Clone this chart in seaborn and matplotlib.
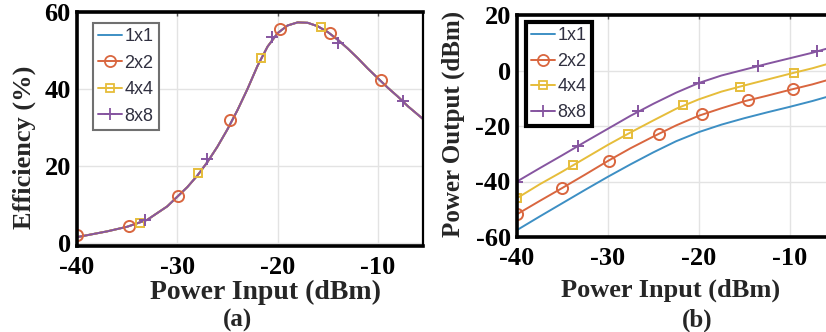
import matplotlib
matplotlib.use("Agg")
import matplotlib.pyplot as plt
import seaborn as sns
from matplotlib.lines import Line2D

# ---------------- data ----------------
SERIES = ["1x1", "2x2", "4x4", "8x8"]
COLORS = ["#3d8fc4", "#d9663f", "#e6bd3a", "#8655a0"]
MARKERS = [None, "o", "s", "+"]

# (a) efficiency (all array sizes coincide)
PIN_A = [-40, -37, -35, -33, -31, -30, -29, -28, -27, -26, -25, -24, -23, -22,
         -21, -20, -19, -18, -17, -16, -15, -14, -13, -12, -11, -10, -9, -8,
         -7, -6, -5.5]
EFF = [1.5, 3.0, 4.2, 6.0, 9.5, 12.0, 14.5, 17.5, 21.0, 25.0, 29.5, 34.5, 40.0,
       46.0, 51.0, 54.5, 56.5, 57.3, 57.2, 56.3, 54.8, 52.8, 50.5, 48.0, 45.3,
       42.8, 40.3, 38.0, 35.5, 33.3, 32.2]
MK_A_X = {"2x2": [-40, -34.8, -29.9, -24.7, -19.8, -14.8, -9.7],
          "4x4": [-33.7, -27.9, -21.7, -15.7],
          "8x8": [-33.2, -27.0, -20.6, -14.0, -7.5]}
MK_A_Y = {"2x2": [2.0, 4.3, 12.3, 32.0, 55.6, 54.6, 42.4],
          "4x4": [5.3, 18.2, 48.0, 56.0],
          "8x8": [6.0, 21.8, 53.6, 52.0, 36.8]}

# (b) power output
PIN_B = [-40, -37.5, -35, -32.5, -30, -27.5, -25, -22.5, -20, -17.5, -15, -12.5,
         -10, -7.5, -6]
POUT = {
    "1x1": [-57.5, -52.6, -47.8, -43.0, -38.3, -33.8, -29.5, -25.5, -22.2, -19.5,
            -17.2, -15.1, -13.1, -11.0, -9.6],
    "2x2": [-51.8, -47.0, -42.3, -37.5, -32.6, -28.0, -23.8, -19.8, -16.3, -13.6,
            -11.1, -9.1, -7.0, -5.0, -3.6],
    "4x4": [-46.0, -41.0, -36.4, -31.6, -26.8, -22.3, -18.0, -13.8, -10.4, -7.6,
            -5.4, -3.3, -1.2, 0.8, 2.2],
    "8x8": [-40.0, -35.2, -30.5, -25.7, -21.0, -16.3, -12.0, -8.0, -4.5, -1.8,
            0.3, 2.4, 4.4, 6.4, 7.8],
}
MK_B_X = {"2x2": [-40, -35.1, -29.9, -24.4, -19.6, -14.6, -9.6],
          "4x4": [-40, -33.8, -27.8, -21.7, -15.5, -9.5],
          "8x8": [-40, -33.3, -26.7, -20.0, -13.5, -7.0]}
MK_B_Y = {"2x2": [-51.8, -42.5, -32.6, -23.0, -15.8, -10.7, -6.5],
          "4x4": [-46.0, -34.2, -22.9, -12.5, -5.9, -0.8],
          "8x8": [-40.0, -27.3, -14.7, -4.5, 1.6, 7.0]}

X_TICKS = [-40, -30, -20, -10]
Y_TICKS_A = [0, 20, 40, 60]
Y_TICKS_B = [-60, -40, -20, 0, 20]

# ---------------- style ----------------
sns.set_theme(style="whitegrid")
plt.rcParams["font.family"] = ["Liberation Serif", "DejaVu Serif"]
plt.rcParams["axes.unicode_minus"] = False

W, H = 826, 332
fig = plt.figure(figsize=(W / 100, H / 100), dpi=100)


def px_axes(l, t, r, b):
    return fig.add_axes([l / W, 1 - b / H, (r - l) / W, (b - t) / H])


ax1 = px_axes(77, 12, 423, 246)
ax2 = px_axes(517, 15, 826, 237)

MS = {"o": 8, "s": 6, "+": 9}


def draw_markers(ax, xs, ys, color, marker):
    sns.lineplot(x=xs, y=ys, ax=ax, color=color, linestyle="", marker=marker,
                 markersize=MS[marker], markerfacecolor="none",
                 markeredgecolor=color, markeredgewidth=1.4, sort=False,
                 estimator=None)


# (a)
for s, c, m in zip(SERIES, COLORS, MARKERS):
    sns.lineplot(x=PIN_A, y=EFF, ax=ax1, color=c, linewidth=1.4, sort=False,
                 estimator=None)
for s, c, m in zip(SERIES, COLORS, MARKERS):
    if m:
        draw_markers(ax1, MK_A_X[s], MK_A_Y[s], c, m)

# (b)
for s, c, m in zip(SERIES, COLORS, MARKERS):
    sns.lineplot(x=PIN_B, y=POUT[s], ax=ax2, color=c, linewidth=1.4, sort=False,
                 estimator=None)
    if m:
        draw_markers(ax2, MK_B_X[s], MK_B_Y[s], c, m)

ax1.set_xlim(-40, -5.5)
ax1.set_ylim(-0.8, 60)
ax2.set_xlim(-40, -6)
ax2.set_ylim(-60, 20)
ax1.set_xticks(X_TICKS)
ax2.set_xticks(X_TICKS)
ax1.set_yticks(Y_TICKS_A)
ax2.set_yticks(Y_TICKS_B)
ax1.set_xticklabels([str(v) for v in X_TICKS])
ax2.set_xticklabels([str(v) for v in X_TICKS])
ax1.set_yticklabels([str(v) for v in Y_TICKS_A])
ax2.set_yticklabels([str(v) for v in Y_TICKS_B])

for ax in (ax1, ax2):
    ax.grid(True, color="#e3e3e3", linewidth=1.0)
    ax.set_facecolor("white")
    ax.tick_params(axis="both", which="major", labelsize=19, pad=4.5,
                   direction="in", length=3, width=1, color="#555555",
                   top=True, labelcolor="black")
    ax.tick_params(axis="x", pad=7)
    for lab in ax.get_xticklabels() + ax.get_yticklabels():
        lab.set_fontweight("bold")
    for side in ("left", "top", "bottom"):
        ax.spines[side].set_color("black")
        ax.spines[side].set_linewidth(2.6)
    ax.spines["right"].set_color("black")

ax1.spines["right"].set_linewidth(1.6)
ax2.spines["right"].set_visible(False)

ax1.set_xlabel("Power Input (dBm)", fontsize=20, fontweight="bold")
ax1.xaxis.set_label_coords((266 - 77) / 346, (246 - 280) / 234)
ax1.set_ylabel("Efficiency (%)", fontsize=19, fontweight="bold")
ax1.yaxis.set_label_coords((24 - 77) / 346, (246 - 147) / 234)
ax2.set_xlabel("Power Input (dBm)", fontsize=19, fontweight="bold")
ax2.xaxis.set_label_coords((671 - 517) / 309, (237 - 279) / 222)
ax2.set_ylabel("Power Output (dBm)", fontsize=18, fontweight="bold")
ax2.yaxis.set_label_coords((453 - 517) / 309, (237 - 124) / 222)
ax1.xaxis.label.set_va("top")
ax2.xaxis.label.set_va("top")
ax1.yaxis.label.set_va("center")
ax2.yaxis.label.set_va("center")

fig.text(238 / W, 1 - 320 / H, "(a)", fontsize=18, fontweight="bold",
         ha="center", va="center")
fig.text(697 / W, 1 - 320 / H, "(b)", fontsize=18, fontweight="bold",
         ha="center", va="center")


def make_handles():
    hs = []
    for s, c, m in zip(SERIES, COLORS, MARKERS):
        hs.append(Line2D([], [], color=c, linewidth=1.4, marker=m,
                         markersize=MS.get(m, 0), markerfacecolor="none",
                         markeredgecolor=c, markeredgewidth=1.3))
    return hs


leg_kw = dict(loc="upper left", handlelength=1.3,
              handletextpad=0.15, borderpad=0.3,
              borderaxespad=0.0, fancybox=False, framealpha=1,
              prop={"family": ["Liberation Sans", "DejaVu Sans"], "size": 13,
                    "weight": "normal"})

l1 = ax1.legend(make_handles(), SERIES, bbox_to_anchor=(16 / 346, 1 - 11 / 234),
                labelspacing=0.52, **leg_kw)
l1.get_frame().set_edgecolor("#707070")
l1.get_frame().set_linewidth(1.5)
for t in l1.get_texts():
    t.set_color("#303040")

l2 = ax2.legend(make_handles(), SERIES, bbox_to_anchor=(9 / 309, 1 - 7 / 222),
                labelspacing=0.47, **leg_kw)
l2.get_frame().set_edgecolor("black")
l2.get_frame().set_linewidth(3.0)
for t in l2.get_texts():
    t.set_color("#303040")

fig.savefig("out.png", dpi=100, facecolor="white")
